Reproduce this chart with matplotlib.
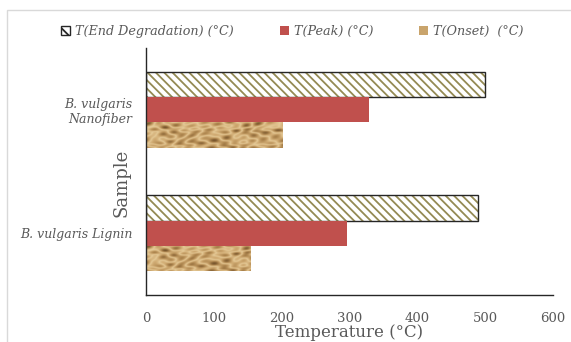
import numpy as np
import matplotlib
matplotlib.use("Agg")
import matplotlib.pyplot as plt
from matplotlib.patches import Patch, Rectangle
from matplotlib.colors import LinearSegmentedColormap

# --- DATA ---
samples = ["B. vulgaris Lignin", "B. vulgaris\nNanofiber"]
t_onset = [154, 201]
t_peak = [296, 328]
t_end = [490, 500]
series_labels = ["T(End Degradation) (°C)", "T(Peak) (°C)", "T(Onset)  (°C)"]
x_ticks = [0, 100, 200, 300, 400, 500, 600]

GRAY = "#595959"
RED = "#C0504D"
OLIVE = "#948A54"
TAN = "#C9A46C"

plt.rcParams["font.family"] = ["DejaVu Serif"]
plt.rcParams["hatch.linewidth"] = 1.3

fig = plt.figure(figsize=(5.71, 3.42), dpi=100)
ax = fig.add_axes([0.2557, 0.1374, 0.7128, 0.7222])

# outer chart border
fig.patches.append(Rectangle((7 / 571, -0.1), 1.2, 1 - 10 / 342 + 0.1,
                             transform=fig.transFigure, fill=False,
                             edgecolor="#D9D9D9", linewidth=1.0))

y = np.arange(len(samples))
h = 0.206

# end degradation: hatched with olive stripes, black outline
ax.barh(y + h, t_end, height=h, color="white", edgecolor=OLIVE,
        hatch="\\\\\\\\", linewidth=0)
ax.barh(y + h, t_end, height=h, fill=False, edgecolor="#262626", linewidth=1.0)

# peak
ax.barh(y, t_peak, height=h, color=RED, linewidth=0)

# onset: crumpled paper look
onset_bars = ax.barh(y - h, t_onset, height=h, color=TAN, linewidth=0)
gx, gy = np.meshgrid(np.linspace(0, 40, 400), np.linspace(0, 8, 160))
tex = (np.sin(gx * 0.8 + 1.8 * np.sin(gy * 0.9 + gx * 0.2)) +
       0.8 * np.sin(gy * 1.6 - gx * 0.9 + np.cos(gx * 0.35)) +
       0.6 * np.sin(gx * 1.7 + gy * 2.1) +
       0.5 * np.cos(gx * 0.25 - gy * 3.1 + np.sin(gy * 1.3)))
tex = np.abs(tex) ** 0.8
paper = LinearSegmentedColormap.from_list(
    "paper", ["#E6CC9A", "#D1AC74", "#AE864F", "#75532B"])
for bar in onset_bars:
    y0 = bar.get_y()
    im = ax.imshow(tex, cmap=paper, aspect="auto", interpolation="bilinear",
                   extent=[0, 250, y0, y0 + h], zorder=bar.get_zorder() + 0.1)
    im.set_clip_path(bar)

ax.set_xlim(0, 600)
ax.set_ylim(-0.5, 1.5)
ax.set_xticks(x_ticks)
ax.set_xticklabels([str(t) for t in x_ticks])
ax.set_yticks(y)
ax.set_yticklabels(samples, fontstyle="italic", fontsize=9, color=GRAY)
ax.tick_params(axis="x", length=0, labelsize=9.5, labelcolor=GRAY, pad=12)
ax.tick_params(axis="y", length=0, pad=10)
for lbl in ax.get_yticklabels():
    lbl.set_horizontalalignment("right")
    lbl.set_multialignment("right")

for s in ["top", "right"]:
    ax.spines[s].set_visible(False)
for s in ["left", "bottom"]:
    ax.spines[s].set_color("#262626")
    ax.spines[s].set_linewidth(1.0)

ax.set_xlabel("Temperature (°C)", fontsize=12, color=GRAY)
ax.xaxis.set_label_coords(0.5, -0.118)
ax.set_ylabel("Sample", fontsize=13, color=GRAY)
ax.yaxis.set_label_coords(-0.037, 0.453)

handles = [
    Patch(facecolor="white", edgecolor="#262626", hatch="\\\\\\"),
    Patch(facecolor=RED),
    Patch(facecolor=TAN),
]
fig.legend(handles, series_labels, loc="center", bbox_to_anchor=(0.512, 0.909),
           ncol=3, frameon=False, handlelength=0.7, handleheight=0.7,
           handletextpad=0.4, columnspacing=3.6,
           prop={"style": "italic", "size": 9.2}, labelcolor=GRAY)

fig.savefig("out.png", dpi=100)
